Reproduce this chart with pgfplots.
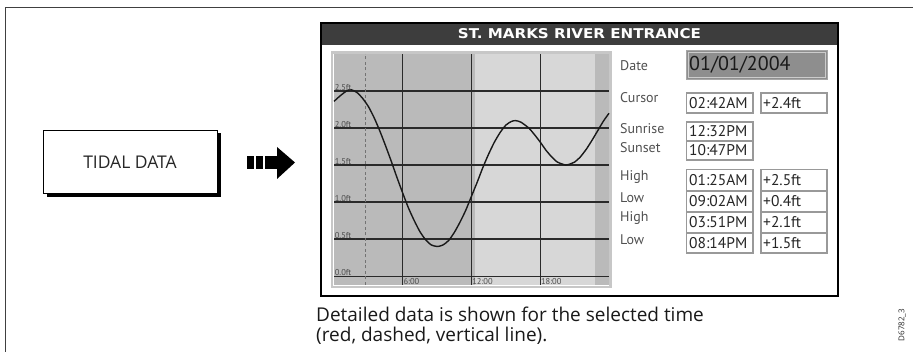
\documentclass[border=0pt]{standalone}
\usepackage{pgfplots}
\pgfplotsset{compat=1.18}
\usepackage{fontspec}
\setmainfont{Open Sans}
\newfontfamily\scr{PT Sans}
\newfontfamily\ttl{DejaVu Sans}

\definecolor{bandD}{HTML}{BABABA}
\definecolor{bandL}{HTML}{D7D7D7}
\definecolor{titlebar}{HTML}{3D3D3D}
\definecolor{datefill}{HTML}{8E8E8E}
\definecolor{grd}{HTML}{2A2A2A}
\definecolor{lab}{HTML}{505050}

% tide height (ft) against hour of the day
\pgfplotstableread{
t h
0 2.36
0.5 2.43
1 2.49
1.42 2.52
2 2.48
2.5 2.40
3 2.29
3.5 2.14
4 1.96
4.5 1.76
5 1.55
5.5 1.33
6 1.12
6.5 0.92
7 0.75
7.5 0.60
8 0.49
8.5 0.42
9.03 0.40
9.5 0.42
10 0.48
10.5 0.59
11 0.73
11.5 0.89
12 1.08
12.5 1.27
13 1.47
13.5 1.65
14 1.81
14.5 1.94
15 2.04
15.5 2.09
15.85 2.10
16.3 2.08
17 2.00
17.5 1.91
18 1.81
18.5 1.70
19 1.61
19.5 1.54
20.23 1.50
20.7 1.52
21 1.54
21.5 1.61
22 1.71
22.5 1.83
23 1.96
23.5 2.09
24 2.20
}\tide

\tikzset{tlab/.style={inner sep=0.6pt, font=\scr\fontsize{8.5}{9}\selectfont, text=black!70}}

\begin{document}
\begin{tikzpicture}
\useasboundingbox (0pt,0pt) rectangle (913pt,352pt);

% page frame
\draw[line width=1.3, black!75] (5.5pt,0pt) -- (5.5pt,344.5pt) -- (913pt,344.5pt);

% TIDAL DATA button
\fill[black] (46.5pt,155pt) rectangle (221pt,218.5pt);
\draw[fill=white, line width=0.8] (43pt,159pt) rectangle (217pt,222pt);
\node[font=\fontsize{17.5}{20}\selectfont, text=black!85] at (130pt,190pt) {TIDAL DATA};

% arrow
\fill[black] (247pt,183pt) rectangle (254pt,196pt);
\fill[black] (256pt,183pt) rectangle (263pt,196pt);
\fill[black] (265pt,183pt) rectangle (278pt,196pt);
\fill[black] (277pt,205pt) -- (295pt,189.5pt) -- (277pt,173pt) -- cycle;

% screen
\draw[line width=2, black] (321pt,56pt) rectangle (838pt,329pt);
\fill[titlebar] (322pt,307pt) rectangle (837pt,328pt);
\node[font=\ttl\bfseries\fontsize{13.5}{15}\selectfont, text=white, xscale=1.12] at (579.5pt,318pt) {ST. MARKS RIVER ENTRANCE};
\draw[line width=2.5, black!22] (332pt,65pt) rectangle (610.5pt,299.5pt);

\begin{axis}[
  at={(334pt,67pt)}, anchor=south west,
  scale only axis, width=275pt, height=231pt,
  xmin=0, xmax=24, ymin=-0.12, ymax=3,
  axis line style={draw=none}, xtick=\empty, ytick=\empty, clip=false
]
  \fill[bandD] (axis cs:0,-0.12) rectangle (axis cs:24,3);
  \fill[bandL] (axis cs:12.3,-0.12) rectangle (axis cs:22.78,3);
  \pgfplotsinvokeforeach{0,0.5,1,1.5,2,2.5}{
    \draw[grd, line width=1.2] (axis cs:0,#1) -- (axis cs:24,#1);
  }
  \pgfplotsinvokeforeach{6,12,18}{
    \draw[grd, line width=1.2] (axis cs:#1,-0.12) -- (axis cs:#1,3);
  }
  \draw[black!55, line width=0.8, dash pattern=on 3pt off 2.5pt] (axis cs:2.7,-0.12) -- (axis cs:2.7,3);
  \addplot[black!90, line width=1.4, smooth, tension=0.4] table[x=t, y=h] {\tide};
  \node[tlab, anchor=base west, yshift=0.8pt] at (axis cs:0,0) {0.0ft};
  \node[tlab, anchor=base west, yshift=0.8pt] at (axis cs:0,0.5) {0.5ft};
  \node[tlab, anchor=base west, yshift=0.8pt] at (axis cs:0,1) {1.0ft};
  \node[tlab, anchor=base west, yshift=0.8pt] at (axis cs:0,1.5) {1.5ft};
  \node[tlab, anchor=base west, yshift=0.8pt] at (axis cs:0,2) {2.0ft};
  \node[tlab, anchor=base west, yshift=0.8pt] at (axis cs:0,2.5) {2.5ft};
  \node[tlab, anchor=west] at (axis cs:6,-0.075) {6:00};
  \node[tlab, anchor=west] at (axis cs:12,-0.075) {12:00};
  \node[tlab, anchor=west] at (axis cs:18,-0.075) {18:00};
\end{axis}

% data panel
\begin{scope}[font=\scr\fontsize{14}{16}\selectfont, text=lab]
  \node[anchor=west, inner sep=0] at (620pt,286pt) {Date};
  \node[anchor=west, inner sep=0] at (620pt,254pt) {Cursor};
  \node[anchor=west, inner sep=0] at (620pt,223pt) {Sunrise};
  \node[anchor=west, inner sep=0] at (620pt,204pt) {Sunset};
  \node[anchor=west, inner sep=0] at (620pt,175pt) {High};
  \node[anchor=west, inner sep=0] at (620pt,154pt) {Low};
  \node[anchor=west, inner sep=0] at (620pt,134pt) {High};
  \node[anchor=west, inner sep=0] at (620pt,112pt) {Low};
\end{scope}

\draw[fill=datefill, draw=black!35, line width=1.8] (686.5pt,272.5pt) rectangle (827.5pt,301.5pt);
\draw[draw=black!20, line width=0.6] (688.5pt,274.5pt) rectangle (825.5pt,299.5pt);
\node[anchor=west, inner sep=0, font=\scr\fontsize{20}{22}\selectfont, text=black!90] at (689pt,287pt) {01/01/2004};

\begin{scope}[font=\scr\fontsize{15.5}{17}\selectfont, text=black!85]
  \foreach \ya/\yb/\a/\b in {239/259/02:42AM/+2.4ft,161/182.5/01:25AM/+2.5ft,140/161/09:02AM/+0.4ft,119/140/03:51PM/+2.1ft,99/119/08:14PM/+1.5ft}{
    \draw[black!40, line width=1.1, fill=white] (686.5pt,\ya pt) rectangle (753pt,\yb pt);
    \draw[black!40, line width=1.1, fill=white] (761pt,\ya pt) rectangle (827pt,\yb pt);
    \node[anchor=west, inner sep=0] at (689pt,{(\ya+\yb)/2*1pt}) {\a};
    \node[anchor=west, inner sep=0] at (763pt,{(\ya+\yb)/2*1pt}) {\b};
  }
  \foreach \ya/\yb/\a in {211/230/12:32PM,192/211/10:47PM}{
    \draw[black!40, line width=1.1, fill=white] (686.5pt,\ya pt) rectangle (753pt,\yb pt);
    \node[anchor=west, inner sep=0] at (689pt,{(\ya+\yb)/2*1pt}) {\a};
  }
\end{scope}

% caption
\node[anchor=base west, inner sep=0, font=\fontsize{19}{21}\selectfont, text=black!90] at (316pt,30.3pt) {Detailed data is shown for the selected time};
\node[anchor=base west, inner sep=0, font=\fontsize{19}{21}\selectfont, text=black!90] at (316pt,10.3pt) {(red, dashed, vertical line).};

\node[rotate=90, inner sep=0, font=\fontsize{8}{9}\selectfont, text=black!85] at (902pt,27pt) {D6782\_3};
\end{tikzpicture}
\end{document}
